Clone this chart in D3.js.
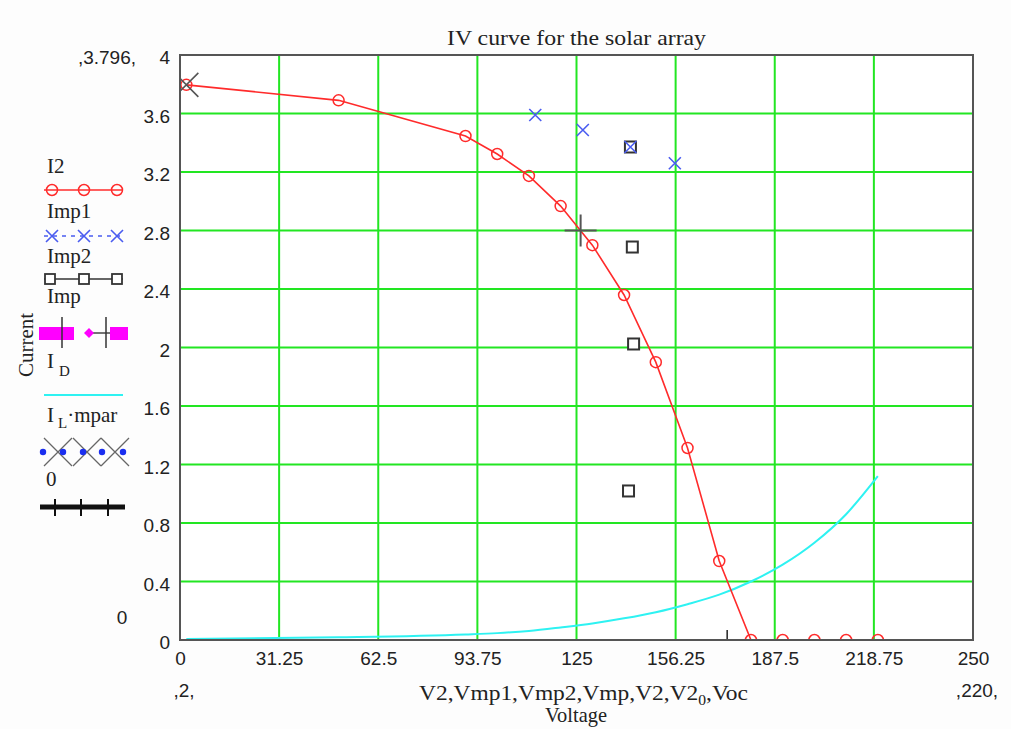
<!DOCTYPE html>
<html>
<head>
<meta charset="utf-8">
<script src="https://cdn.jsdelivr.net/npm/d3@7"></script>
<style>
	body { margin: 0; background: #fdfdfd; }
	svg { display: block; }
</style>
</head>
<body>
<div id="chart"></div>
<script>
// I2 vs V2 (red circles)
const v2 = [2, 50, 90, 100, 110, 120, 130, 140, 150, 160, 170, 180, 190, 200, 210, 220];
const i2 = [3.796, 3.69, 3.446, 3.323, 3.173, 2.967, 2.70, 2.359, 1.90, 1.313, 0.54, 0, 0, 0, 0, 0];
// I_D vs V2 (cyan line)
const iD = [0.006, 0.018, 0.038, 0.047, 0.062, 0.086, 0.113, 0.148, 0.19, 0.245, 0.31, 0.40, 0.515, 0.665, 0.86, 1.12];
// Imp1 vs Vmp1 (blue x)
const vmp1 = [112, 127, 142, 156];
const imp1 = [3.59, 3.487, 3.371, 3.26];
// Imp2 vs Vmp2 (black squares)
const vmp2 = [142, 142.6, 143, 141.4];
const imp2 = [3.371, 2.687, 2.024, 1.019];
// Imp vs Vmp (crosshair)
const vmp = [126.3];
const imp = [2.80];
// I_L*mpar vs V2_0
const v20 = [2];
const iLmpar = [3.796];
// 0 vs Voc
const voc = [172.5];
const zeroI = [0];

const xTicks = [0, 31.25, 62.5, 93.75, 125, 156.25, 187.5, 218.75, 250];
const yTicks = [0, 0.4, 0.8, 1.2, 1.6, 2, 2.4, 2.8, 3.2, 3.6, 4];

const title = 'IV curve for the solar array';
const xLabel = 'Voltage';
const yLabel = 'Current';

const W = 1011, H = 729;
const pLeft = 180, pRight = 973, pTop = 55, pBottom = 640;
const serif = '"Liberation Serif", "DejaVu Serif", serif';
const sans = '"Liberation Sans", Arial, sans-serif';

const svg = d3.select('#chart').append('svg')
	.attr('width', W).attr('height', H)
	.style('background', '#fdfdfd');

const x = d3.scaleLinear().domain([0, 250]).range([pLeft, pRight]);
const y = d3.scaleLinear().domain([0, 4]).range([pBottom, pTop]);

svg.append('defs').append('clipPath').attr('id', 'plotClip')
	.append('rect').attr('x', pLeft).attr('y', pTop)
	.attr('width', pRight - pLeft).attr('height', pBottom - pTop);

svg.append('rect')
	.attr('x', pLeft).attr('y', pTop)
	.attr('width', pRight - pLeft).attr('height', pBottom - pTop)
	.attr('fill', '#ffffff');

// grid lines
svg.append('g').selectAll('line').data(xTicks.slice(1, -1)).join('line')
	.attr('x1', d => x(d)).attr('x2', d => x(d))
	.attr('y1', pTop).attr('y2', pBottom)
	.attr('stroke', '#22e622').attr('stroke-width', 2);
svg.append('g').selectAll('line').data(yTicks.slice(1, -1)).join('line')
	.attr('y1', d => y(d)).attr('y2', d => y(d))
	.attr('x1', pLeft).attr('x2', pRight)
	.attr('stroke', '#22e622').attr('stroke-width', 2);

// axes tick labels
const xAxis = svg.append('g')
	.attr('transform', `translate(0, ${pBottom})`)
	.call(d3.axisBottom(x).tickValues(xTicks).tickSize(0).tickPadding(12).tickFormat(d => String(d)));
const yAxis = svg.append('g')
	.attr('transform', `translate(${pLeft}, 0)`)
	.call(d3.axisLeft(y).tickValues(yTicks).tickSize(0).tickPadding(10).tickFormat(d => String(+d.toFixed(1))));
[xAxis, yAxis].forEach(a => {
	a.select('.domain').remove();
	a.selectAll('text').style('font-family', sans).style('font-size', '19px').attr('fill', '#222');
});
yAxis.selectAll('text').attr('dy', '0.45em');

const plot = svg.append('g').attr('clip-path', 'url(#plotClip)');

// I_D cyan line
plot.append('path')
	.datum(v2.map((v, k) => [v, iD[k]]))
	.attr('d', d3.line().curve(d3.curveMonotoneX).x(d => x(d[0])).y(d => y(d[1])))
	.attr('fill', 'none').attr('stroke', '#2ef2f2').attr('stroke-width', 2);

// I2 red line + circles
plot.append('path')
	.datum(v2.map((v, k) => [v, i2[k]]))
	.attr('d', d3.line().x(d => x(d[0])).y(d => y(d[1])))
	.attr('fill', 'none').attr('stroke', '#ff2b2b').attr('stroke-width', 1.6);

// Voc marker
plot.selectAll('.voc').data(voc).join('path')
	.attr('d', (d, k) => `M${x(d)},${y(zeroI[k]) - 10}V${y(zeroI[k]) + 10}`)
	.attr('stroke', '#222').attr('stroke-width', 1.5);

plot.append('g').selectAll('circle').data(v2).join('circle')
	.attr('cx', d => x(d)).attr('cy', (d, k) => y(i2[k])).attr('r', 5.5)
	.attr('fill', 'none').attr('stroke', '#ff2b2b').attr('stroke-width', 1.5);

// Imp2 squares
plot.append('g').selectAll('rect').data(vmp2).join('rect')
	.attr('x', d => x(d) - 5.5).attr('y', (d, k) => y(imp2[k]) - 5.5)
	.attr('width', 11).attr('height', 11)
	.attr('fill', '#fff').attr('stroke', '#333').attr('stroke-width', 2);

// Imp1 blue x
const xMark = (cx, cy, s) => `M${cx - s},${cy - s}L${cx + s},${cy + s}M${cx - s},${cy + s}L${cx + s},${cy - s}`;
plot.append('g').selectAll('path').data(vmp1).join('path')
	.attr('d', (d, k) => xMark(x(d), y(imp1[k]), 6))
	.attr('stroke', '#4a5cf0').attr('stroke-width', 1.6).attr('fill', 'none');

// Imp crosshair
plot.append('g').selectAll('path').data(vmp).join('path')
	.attr('d', (d, k) => `M${x(d) - 16},${y(imp[k])}H${x(d) + 16}M${x(d)},${y(imp[k]) - 16}V${y(imp[k]) + 16}`)
	.attr('stroke', '#555').attr('stroke-width', 2);

// I_L*mpar X
plot.append('g').selectAll('path').data(v20).join('path')
	.attr('d', (d, k) => xMark(x(d), y(iLmpar[k]), 12))
	.attr('stroke', '#555').attr('stroke-width', 1.6).attr('fill', 'none');

// frame
svg.append('rect')
	.attr('x', pLeft).attr('y', pTop)
	.attr('width', pRight - pLeft).attr('height', pBottom - pTop)
	.attr('fill', 'none').attr('stroke', '#555').attr('stroke-width', 2);

// titles
const txt = (t, px, py, size, len, anchor) => svg.append('text')
	.attr('x', px).attr('y', py)
	.attr('text-anchor', anchor || 'start')
	.attr('textLength', len || null)
	.attr('lengthAdjust', 'spacingAndGlyphs')
	.style('font-family', serif).style('font-size', size + 'px').attr('fill', '#222')
	.text(t);

txt(title, 447, 45, 21, 259);
txt(xLabel, 545, 722, 21, 62);
const xl = svg.append('text').attr('x', 419).attr('y', 700)
	.attr('textLength', 329).attr('lengthAdjust', 'spacingAndGlyphs')
	.style('font-family', serif).style('font-size', '21px').attr('fill', '#222');
xl.append('tspan').text('V2,Vmp1,Vmp2,Vmp,V2,V2');
xl.append('tspan').attr('dy', 5).style('font-size', '14px').text('0');
xl.append('tspan').attr('dy', -5).text(',Voc');

svg.append('text')
	.attr('transform', 'translate(33, 345) rotate(-90)')
	.attr('text-anchor', 'middle')
	.style('font-family', serif).style('font-size', '21px').attr('fill', '#222')
	.text(yLabel);

// limit labels
const lim = (t, px, py, anchor) => svg.append('text')
	.attr('x', px).attr('y', py).attr('text-anchor', anchor)
	.style('font-family', sans).style('font-size', '19px').attr('fill', '#222')
	.text(t);
lim(',' + iLmpar[0] + ',', 136, 64, 'end');
lim('0', 122, 624, 'middle');
lim(',' + v2[0] + ',', 184, 697, 'middle');
lim(',' + v2[v2.length - 1] + ',', 977, 697, 'middle');

// legend
const lg = svg.append('g');
const ltext = (t, px, py) => lg.append('text').attr('x', px).attr('y', py)
	.style('font-family', serif).style('font-size', '21px').attr('fill', '#222').text(t);

ltext('I2', 47, 173);
lg.append('line').attr('x1', 44).attr('x2', 123).attr('y1', 190).attr('y2', 190)
	.attr('stroke', '#ff2b2b').attr('stroke-width', 1.6);
[52, 84, 117].forEach(cx => lg.append('circle').attr('cx', cx).attr('cy', 190).attr('r', 5.5)
	.attr('fill', 'none').attr('stroke', '#ff2b2b').attr('stroke-width', 1.5));

ltext('Imp1', 47, 218);
lg.append('line').attr('x1', 44).attr('x2', 123).attr('y1', 236).attr('y2', 236)
	.attr('stroke', '#4a5cf0').attr('stroke-width', 1.5).attr('stroke-dasharray', '4,5');
[52, 84, 117].forEach(cx => lg.append('path').attr('d', xMark(cx, 236, 6))
	.attr('stroke', '#4a5cf0').attr('stroke-width', 1.6));

ltext('Imp2', 47, 263);
lg.append('line').attr('x1', 44).attr('x2', 123).attr('y1', 279).attr('y2', 279)
	.attr('stroke', '#333').attr('stroke-width', 1.5);
[50, 84, 117].forEach(cx => lg.append('rect').attr('x', cx - 5).attr('y', 274).attr('width', 10).attr('height', 10)
	.attr('fill', '#fff').attr('stroke', '#333').attr('stroke-width', 1.8));

ltext('Imp', 47, 303);
lg.append('rect').attr('x', 39).attr('y', 327).attr('width', 35).attr('height', 13).attr('fill', '#ff00ff');
lg.append('rect').attr('x', 110).attr('y', 327).attr('width', 18).attr('height', 13).attr('fill', '#ff00ff');
lg.append('line').attr('x1', 89).attr('x2', 110).attr('y1', 333).attr('y2', 333).attr('stroke', '#444').attr('stroke-width', 1.5);
lg.append('path').attr('d', 'M89,328L94,333L89,338L84,333Z').attr('fill', '#ff00ff');
[62, 106].forEach(cx => lg.append('line').attr('x1', cx).attr('x2', cx).attr('y1', 317).attr('y2', 348)
	.attr('stroke', '#333').attr('stroke-width', 1.5));

const t5 = ltext('I', 47, 368);
t5.append('tspan').attr('dx', 5).attr('dy', 8).style('font-size', '15px').text('D');
lg.append('line').attr('x1', 44).attr('x2', 123).attr('y1', 395).attr('y2', 395)
	.attr('stroke', '#2ef2f2').attr('stroke-width', 2);

const t6 = ltext('I', 47, 422);
t6.append('tspan').attr('dx', 4).attr('dy', 6).style('font-size', '15px').text('L');
t6.append('tspan').attr('dy', -6).text('\u00b7mpar');
[58, 87, 115].forEach(cx => lg.append('path').attr('d', xMark(cx, 452, 14))
	.attr('stroke', '#666').attr('stroke-width', 1.3).attr('fill', 'none'));
[43, 63, 83, 102, 123].forEach(cx => lg.append('circle').attr('cx', cx).attr('cy', 452).attr('r', 3.2)
	.attr('fill', '#1a2ef0'));

ltext('0', 46, 486);
lg.append('line').attr('x1', 40).attr('x2', 125).attr('y1', 507).attr('y2', 507)
	.attr('stroke', '#111').attr('stroke-width', 5);
[55, 81, 108].forEach(cx => lg.append('line').attr('x1', cx).attr('x2', cx).attr('y1', 499).attr('y2', 516)
	.attr('stroke', '#111').attr('stroke-width', 2));
</script>
</body>
</html>
